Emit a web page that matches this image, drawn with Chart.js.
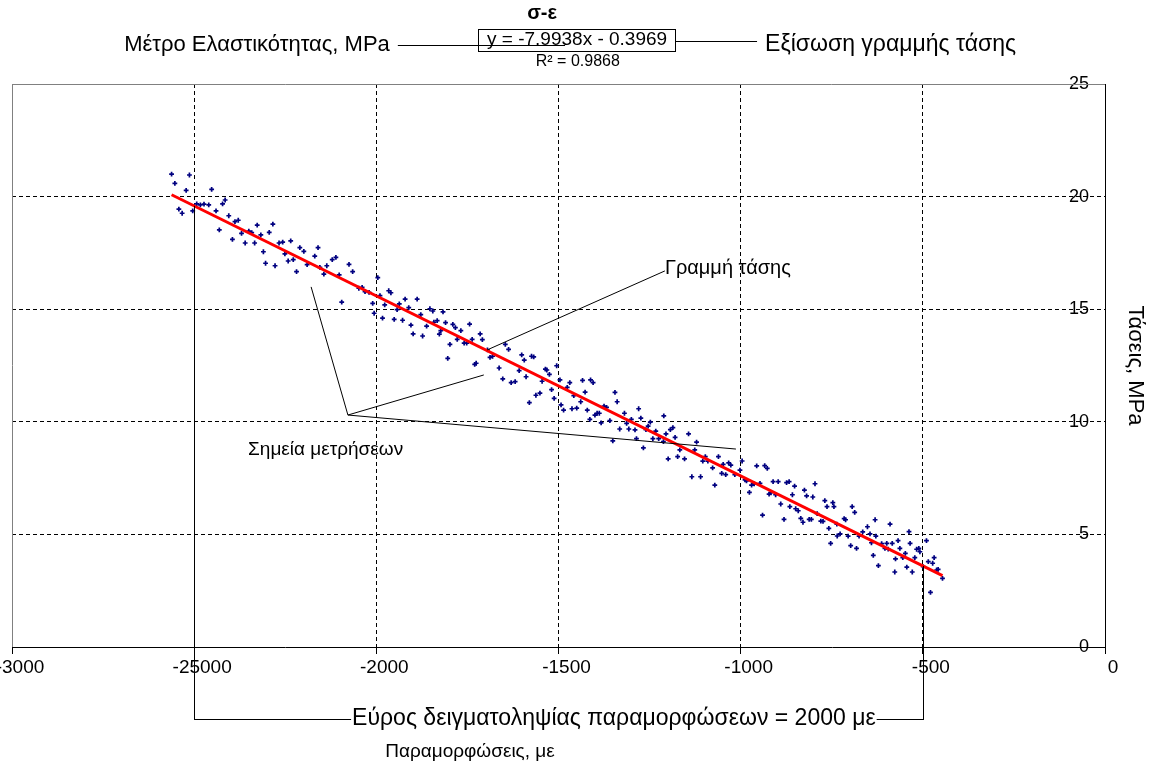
<!DOCTYPE html>
<html lang="el">
<head>
<meta charset="utf-8">
<title>σ-ε</title>
<script src="https://cdn.jsdelivr.net/npm/chart.js@4.4.1/dist/chart.umd.min.js"></script>
<style>
  html, body { margin: 0; padding: 0; background: #fff; }
  canvas { display: block; }
</style>
</head>
<body>
<canvas id="chart" width="1153" height="766"></canvas>
<script>
// Strain readings, με
const strain = [
  -2562,-2553,-2513,-2522,-2452,-2542,-2533,-2504,-2493,-2483,
  -2473,-2460,-2440,-2422,-2415,-2405,-2431,-2388,-2379,-2395,
  -2370,-2360,-2350,-2342,-2327,-2334,-2317,-2294,-2284,-2310,
  -2304,-2278,-2267,-2257,-2251,-2235,-2242,-2228,-2210,-2199,
  -2219,-2190,-2169,-2160,-2155,-2144,-2136,-2121,-2111,-2102,
  -2075,-2065,-2048,-2095,
  -2039,-2031,-2020,-1996,-2010,-2006,-1990,-1977,-1983,-1966,
  -1960,-1951,-1943,-1937,-1928,-1921,-1911,-1905,-1899,-1888,
  -1878,-1873,-1862,-1853,-1845,-1842,-1833,-1827,-1823,-1817,
  -1810,-1804,-1798,-1790,-1783,-1778,-1768,-1759,-1752,-1744,
  -1737,-1730,-1726,-1715,-1709,-1695,-1688,-1681,-1663,-1653,
  -1646,-1637,-1630,-1619,-1601,-1594,-1608,-1589,-1580,-1574,
  -1568,-1562,-1551,-1545,-1536,-1532,-1525,-1519,-1512,-1505,
  -1496,-1493,-1486,-1476,-1469,-1458,-1463,-1450,-1439,-1434,
  -1427,-1421,-1414,-1412,-1405,-1400,-1394,-1388,-1383,-1375,
  -1368,-1359,-1351,-1345,-1339,-1332,-1319,-1313,-1307,-1300,
  -1290,-1286,-1280,-1274,-1267,-1260,-1254,-1248,-1241,-1233,
  -1225,-1211,-1212,-1205,-1199,-1193,-1186,-1180,-1173,-1167,
  -1154,-1143,-1134,-1126,-1121,-1110,-1104,-1097,-1090,-1077,
  -1071,-1061,-1052,-1048,-1041,-1033,-1027,-1016,-1002,-996,
  -988,-984,-976,-970,-963,-956,
  -947,-940,-934,-927,-922,-917,-911,-904,-897,-890,
  -881,-874,-867,-865,-858,-852,-849,-842,-835,-829,
  -825,-819,-812,-806,-802,-796,-790,-780,-774,-769,
  -763,-758,-753,-747,-744,-736,-735,-727,-716,-712,
  -705,-698,-694,-687,-682,-675,-665,-652,-645,-641,
  -636,-631,-629,-622,-613,-604,-599,-595,-590,-584,
  -577,-575,-568,-563,-555,-548,-544,-538,-535,-529,
  -522,-517,-511,-508,-499,-490,-485,-479,-473,-469,
  -462,-458,-446
];

// Stress readings, MPa (same order as strain)
const stress = [
  21.00,20.59,20.96,20.28,20.32,19.44,19.26,19.37,19.68,19.63,
  19.67,19.63,19.37,19.68,19.85,19.15,18.52,18.89,18.95,18.10,
  18.37,17.94,18.47,18.40,18.73,17.94,18.30,18.41,18.78,17.55,
  17.04,16.93,17.94,17.98,17.46,18.03,17.14,17.20,17.73,17.57,
  16.67,16.98,17.36,17.73,16.86,16.56,16.93,17.20,17.30,16.52,
  16.99,16.67,15.93,15.31,
  15.97,15.78,15.75,16.40,15.26,14.82,15.60,15.19,14.60,15.82,
  15.73,14.55,14.98,15.24,14.51,15.45,15.07,14.29,13.90,15.45,
  14.76,13.81,14.25,15.02,14.92,14.42,14.49,13.89,14.05,14.88,
  14.40,12.82,13.44,14.33,14.18,13.66,14.05,13.49,13.49,14.34,
  13.66,12.55,12.60,13.90,13.65,13.19,12.86,12.91,12.39,11.91,
  13.44,13.22,11.74,11.78,12.97,12.74,12.27,12.00,10.85,12.91,
  12.88,11.18,11.27,11.80,12.34,12.30,12.11,11.43,11.04,12.49,
  11.86,10.75,10.52,11.53,11.74,11.16,10.58,10.61,10.89,11.84,
  11.32,10.52,10.11,11.86,11.74,10.30,10.38,10.38,9.95,10.70,
  10.64,10.05,9.15,11.31,10.89,9.68,10.38,9.93,9.68,10.11,
  9.64,9.25,10.58,10.16,8.84,9.65,9.81,9.99,9.25,9.59,
  9.25,10.26,9.12,9.46,8.35,9.65,9.74,9.31,8.45,8.75,
  8.35,9.46,7.56,8.75,9.10,7.56,8.25,8.45,8.25,7.95,
  7.19,8.45,7.71,8.11,7.65,8.18,8.08,7.65,7.85,8.26,
  7.42,7.38,6.87,7.19,7.24,8.04,
  7.27,5.86,8.05,7.93,6.79,6.85,7.34,6.76,7.34,6.35,
  5.67,7.30,7.34,6.23,6.76,7.14,6.14,6.05,5.71,5.54,
  6.97,6.71,5.67,5.67,6.66,7.25,5.92,5.59,5.58,6.50,
  6.23,5.27,4.60,6.41,6.23,5.46,4.93,5.02,5.70,5.65,
  4.92,4.50,6.23,5.98,4.38,4.92,5.11,5.34,5.02,4.63,
  4.07,5.65,4.92,3.61,4.59,4.38,4.60,4.35,5.46,4.60,
  3.33,3.91,4.72,4.38,3.97,4.16,3.55,5.12,4.60,3.33,
  3.97,4.34,4.38,4.23,3.57,4.72,3.79,2.43,3.72,3.97,
  3.42,3.45,3.05
];

// Axis tick labels as printed
const xTickLabels = ['-3000', '-25000', '-2000', '-1500', '-1000', '-500', '0'];
const yTickLabels = ['0', '5', '10', '15', '20', '25'];

// Linear trend: σ = a·ε + b, with ε in ‰ (με / 1000)
const trendSlope = -7.9938;
const trendIntercept = -0.3969;
const rSquared = 0.9868;
const trendSpan = [-2562, -446];      // first and last strain reading
const samplingSpan = [-2500, -500];   // strain window used for the modulus

const trendAt = eps => trendSlope * eps / 1000 + trendIntercept;

const FONT = '"Liberation Sans", Arial, Helvetica, sans-serif';
Chart.defaults.font.family = FONT;
Chart.defaults.color = '#000';

// Callout texts and their anchors, in chart units (με, MPa)
const notes = {
  title:      { text: 'σ-ε', at: [-1545, 28.15], size: 20 },
  modulus:    { text: 'Μέτρο Ελαστικότητας, MPa', at: [-1963, 26.73], lineFrom: -1941, lineTo: -1482, size: 22 },
  eqBox:      { x: [-1721, -1180], y: [27.44, 26.47] },
  equation:   { at: [-1449, 26.95], size: 19 },
  rsq:        { at: [-1447, 25.98], size: 16 },
  eqLabel:    { text: 'Εξίσωση γραμμής τάσης', at: [-933, 26.73], lineY: 26.91, lineTo: -955, size: 23 },
  trendLabel: { text: 'Γραμμή τάσης', at: [-1208, 16.83], from: [-1208, 16.70], to: [-1696, 13.19], size: 20 },
  pointLabel: { text: 'Σημεία μετρήσεων', at: [-2352, 8.75], from: [-2078, 10.30],
                to: [[-2179, 15.99], [-1705, 12.08], [-1013, 8.79]], size: 19 },
  span:       { text: 'Εύρος δειγματοληψίας παραμορφώσεων = 2000 με', y: -3.20, bottom: -3.24, textX: -1348, size: 23 },
  xTitle:     { text: 'Παραμορφώσεις, με', at: [-1743, -4.66], size: 19 }
};

const calloutPlugin = {
  id: 'callouts',
  afterDatasetsDraw(chart) {
    const { ctx, chartArea: a } = chart;
    const xs = chart.scales.x, ys = chart.scales.y;
    const X = v => xs.getPixelForValue(v);
    const Y = v => ys.getPixelForValue(v);
    const line = (x1, y1, x2, y2, color = '#000', w = 1) => {
      ctx.save();
      ctx.strokeStyle = color; ctx.lineWidth = w; ctx.setLineDash([]);
      ctx.beginPath(); ctx.moveTo(x1, y1); ctx.lineTo(x2, y2); ctx.stroke();
      ctx.restore();
    };
    const text = (str, x, y, align, size, weight = 'normal') => {
      ctx.save();
      ctx.font = `${weight} ${size}px ${FONT}`;
      ctx.fillStyle = '#000'; ctx.textAlign = align; ctx.textBaseline = 'middle';
      ctx.fillText(str, x, y);
      const w = ctx.measureText(str).width;
      ctx.restore();
      return w;
    };

    // plot frame (top and left edges)
    line(a.left, a.top + 0.5, a.right, a.top + 0.5, '#808080');
    line(a.left + 0.5, a.top, a.left + 0.5, a.bottom, '#808080');

    // heading
    const h = notes.title;
    text(h.text, X(h.at[0]), Y(h.at[1]), 'center', h.size, 'bold');

    // equation box
    const bx1 = Math.round(X(notes.eqBox.x[0])) + 0.5, bx2 = Math.round(X(notes.eqBox.x[1])) + 0.5;
    const by1 = Math.round(Y(notes.eqBox.y[0])) + 0.5, by2 = Math.round(Y(notes.eqBox.y[1])) + 0.5;
    ctx.save(); ctx.strokeStyle = '#000'; ctx.lineWidth = 1;
    ctx.strokeRect(bx1, by1, bx2 - bx1, by2 - by1); ctx.restore();
    const eqStr = `y = ${trendSlope.toFixed(4)}x - ${Math.abs(trendIntercept).toFixed(4)}`;
    text(eqStr, X(notes.equation.at[0]), Y(notes.equation.at[1]), 'center', notes.equation.size);
    text(`R² = ${rSquared.toFixed(4)}`, X(notes.rsq.at[0]), Y(notes.rsq.at[1]), 'center', notes.rsq.size);

    // modulus leader (runs under the slope)
    const m = notes.modulus;
    text(m.text, X(m.at[0]), Y(m.at[1]), 'right', m.size);
    const my = Math.round(Y(m.at[1])) + 0.5;
    line(X(m.lineFrom), my, X(m.lineTo), my);

    // equation leader
    const e = notes.eqLabel;
    const ey = Math.round(Y(e.lineY)) + 0.5;
    line(bx2, ey, X(e.lineTo), ey);
    text(e.text, X(e.at[0]), Y(e.at[1]), 'left', e.size);

    // trend line callout
    const t = notes.trendLabel;
    text(t.text, X(t.at[0]), Y(t.at[1]), 'left', t.size);
    line(X(t.from[0]), Y(t.from[1]), X(t.to[0]), Y(t.to[1]));

    // measured points callout
    const p = notes.pointLabel;
    text(p.text, X(p.at[0]), Y(p.at[1]), 'left', p.size);
    p.to.forEach(([tx, ty]) => line(X(p.from[0]), Y(p.from[1]), X(tx), Y(ty)));

    // sampling window bracket
    const s = notes.span;
    const lx = Math.round(X(samplingSpan[0])) + 0.5, rx = Math.round(X(samplingSpan[1])) + 0.5;
    const sy = Math.round(Y(s.y)) + 0.5;
    line(lx, Y(trendAt(samplingSpan[0])), lx, Y(s.bottom));
    line(rx, Y(trendAt(samplingSpan[1])), rx, Y(s.bottom));
    const sw = text(s.text, X(s.textX), Y(s.y), 'center', s.size);
    const cx = X(s.textX);
    line(lx, sy, cx - sw / 2 - 1, sy);
    line(cx + sw / 2 + 1, sy, rx, sy);

    // horizontal axis title
    const xt = notes.xTitle;
    text(xt.text, X(xt.at[0]), Y(xt.at[1]), 'center', xt.size);
  }
};

const points = strain.map((e, i) => ({ x: e, y: stress[i] }));
const trendLine = trendSpan.map(e => ({ x: e, y: trendAt(e) }));

new Chart(document.getElementById('chart'), {
  type: 'scatter',
  data: {
    datasets: [
      {
        type: 'line',
        label: 'Γραμμή τάσης',
        data: trendLine,
        borderColor: '#ff0000',
        borderWidth: 3,
        pointRadius: 0,
        fill: false
      },
      {
        label: 'Σημεία μετρήσεων',
        data: points,
        pointStyle: 'cross',
        pointRadius: 2.4,
        borderWidth: 1.7,
        borderColor: '#000080',
        backgroundColor: '#000080'
      }
    ]
  },
  options: {
    responsive: false,
    devicePixelRatio: 1,
    animation: false,
    layout: { padding: { left: 12, top: 84, right: 0, bottom: 0 } },
    plugins: { legend: { display: false }, tooltip: { enabled: false }, title: { display: false } },
    scales: {
      x: {
        type: 'linear',
        position: 'bottom',
        min: -3000, max: 0,
        afterFit(s) { s.height = 119; s.paddingLeft = 0; s.paddingRight = 0; },
        ticks: {
          stepSize: 500,
          maxRotation: 0,
          autoSkip: false,
          padding: 2,
          labelOffset: 8,
          font: { size: 19 },
          color: '#000',
          callback: (v, i) => xTickLabels[i]
        },
        grid: {
          color: c => (c.tick && (c.tick.value === -3000 || c.tick.value === 0)) ? 'rgba(0,0,0,0)' : '#000',
          lineWidth: 1,
          tickLength: 7,
          tickColor: '#000',
          tickBorderDash: []
        },
        border: { display: true, color: '#000', width: 1, dash: [4, 3] }
      },
      y: {
        type: 'linear',
        position: 'right',
        min: 0, max: 25,
        afterFit(s) { s.width = 48; s.paddingTop = 0; s.paddingBottom = 0; },
        ticks: {
          stepSize: 5,
          mirror: true,
          padding: -16,
          font: { size: 18 },
          color: '#000',
          callback: (v, i) => yTickLabels[i]
        },
        grid: {
          color: c => (c.tick && (c.tick.value === 0 || c.tick.value === 25)) ? 'rgba(0,0,0,0)' : '#000',
          lineWidth: 1,
          drawTicks: false
        },
        border: { display: true, color: '#000', width: 1, dash: [4, 3] },
        title: {
          display: true,
          text: 'Τάσεις, MPa',
          font: { size: 22 },
          color: '#000',
          padding: { top: 5, bottom: 0 }
        }
      }
    }
  },
  plugins: [calloutPlugin]
});
</script>
</body>
</html>
